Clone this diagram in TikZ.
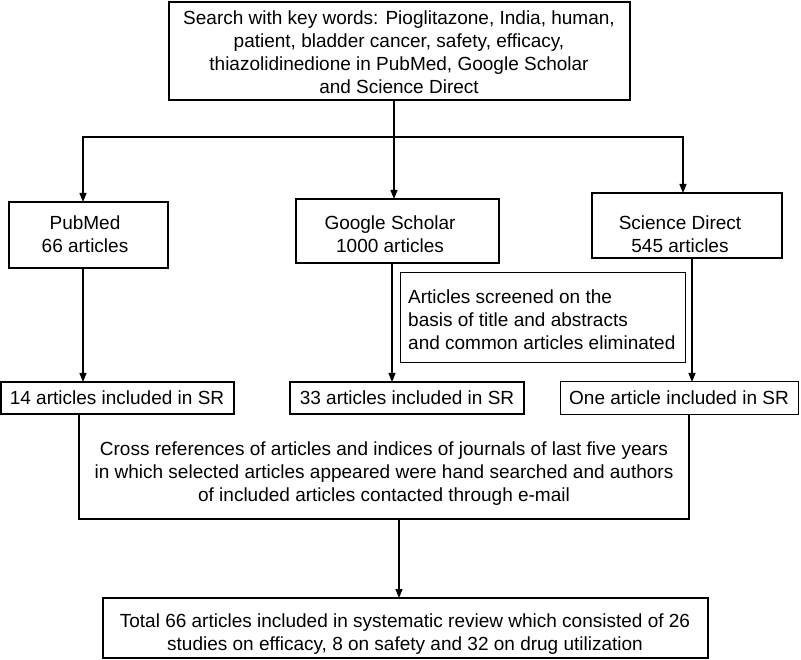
\documentclass[tikz,border=0pt]{standalone}
\usepackage{fontspec}
\setmainfont{Liberation Sans}
\usetikzlibrary{arrows.meta}
\begin{document}
\begin{tikzpicture}[x=1pt,y=-1pt,
  box/.style={draw,line width=1.8pt},
  thinbox/.style={draw,line width=1pt},
  txt/.style={font=\fontsize{19}{23}\selectfont,align=center,inner sep=0},
  ln/.style={line width=1.2pt},
  arr/.style={ln,-{Triangle[length=9pt,width=7pt]}}]
\useasboundingbox (0,0) rectangle (801,660);
\draw[box] (169,2) rectangle (630,100);
\node[txt] (top) at (399,52) {Search with key words: Pioglitazone, India, human,\\patient, bladder cancer, safety, efficacy,\\thiazolidinedione in PubMed, Google Scholar\\and Science Direct};
\draw[box] (9,202) rectangle (168,268);
\node[txt] (pm) at (85,234) {PubMed\\66 articles};
\draw[box] (296,199) rectangle (499,263);
\node[txt] (gs) at (390,234) {Google Scholar\\1000 articles};
\draw[box] (592,193) rectangle (782,258);
\node[txt] (sd) at (680,234) {Science Direct\\545 articles};
\draw[thinbox] (400,273) rectangle (685,363);
\node[txt,align=left,anchor=west,font=\fontsize{19}{23}\selectfont] (scr) at (408,320) {Articles screened on the\\basis of title and abstracts\\and common articles eliminated};
\draw[box] (1,382) rectangle (234,414);
\node[txt] (a14) at (117,398) {14 articles included in SR};
\draw[box] (290,382) rectangle (524,414);
\node[txt] (a33) at (407,398) {33 articles included in SR};
\draw[thinbox] (560,382) rectangle (798,414);
\node[txt] (a1) at (679,398) {One article included in SR};
\node[txt] (cross) at (384,474) {Cross references of articles and indices of journals of last five years\\in which selected articles appeared were hand searched and authors\\of included articles contacted through e-mail};
\draw[box] (103,598) rectangle (708,658);
\node[txt] (tot) at (405,634) {Total 66 articles included in systematic review which consisted of 26\\studies on efficacy, 8 on safety and 32 on drug utilization};
\coordinate (j) at (394,137);
\draw[ln] (394,100) -- (j);
\draw[ln] (83,137) -- (683,137);
\draw[arr] (83,136.4) -- (83,202);
\draw[arr] (394,136.4) -- (394,199);
\draw[arr] (683,136.4) -- (683,193);
\draw[arr] (83,268) -- (83,382);
\draw[arr] (392,263) -- (392,382);
\draw[arr] (692,258) -- (692,382);
\draw[ln] (79,414) -- (79,519) -- (689,519) -- (689,414);
\draw[arr] (399,519) -- (399,598);
\end{tikzpicture}
\end{document}
